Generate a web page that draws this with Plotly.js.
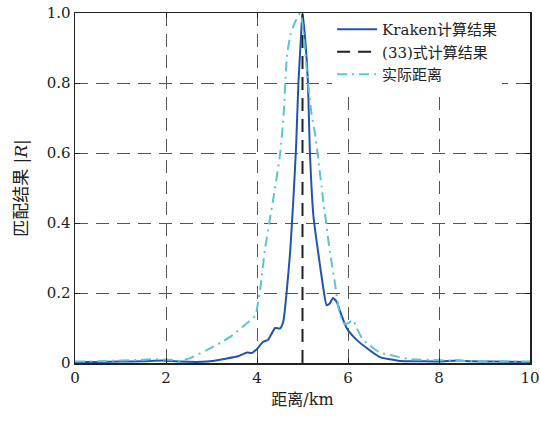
<!DOCTYPE html>
<html><head><meta charset="utf-8">
<script src="https://cdn.plot.ly/plotly-3.0.1.min.js"></script>
<style>html,body{margin:0;padding:0;background:#fff}#c{width:540px;height:425px}</style>
</head><body><div id="c"></div>
<script>
const blueX = [0,0.5,1,1.5,1.93,2.3,2.9,3.34,3.6,3.78,3.89,4.0,4.13,4.24,4.40,4.51,4.58,4.65,4.73,4.80,4.86,4.91,4.97,5.0,5.05,5.12,5.16,5.24,5.34,5.45,5.53,5.60,5.67,5.75,5.82,5.97,6.19,6.42,6.70,7.14,7.6,8.0,8.4,8.7,9.2,10];
const blueY = [0.003,0.003,0.004,0.005,0.007,0.004,0.004,0.013,0.02,0.03,0.029,0.04,0.06,0.066,0.10,0.099,0.12,0.2,0.32,0.47,0.62,0.80,0.94,1.0,0.94,0.80,0.61,0.42,0.32,0.22,0.165,0.17,0.186,0.175,0.15,0.10,0.066,0.042,0.017,0.006,0.005,0.004,0.007,0.005,0.004,0.003];
const cyanX = [0,0.5,1,1.5,1.71,2.1,2.31,2.53,2.9,3.2,3.47,3.78,3.96,4.02,4.08,4.17,4.28,4.36,4.51,4.58,4.66,4.74,4.84,4.95,5.0,5.1,5.2,5.27,5.34,5.45,5.60,5.71,5.82,5.93,6.02,6.11,6.19,6.33,6.48,6.70,6.92,7.36,7.8,8.5,9.2,10];
const cyanY = [0.004,0.005,0.007,0.009,0.011,0.009,0.006,0.014,0.037,0.058,0.08,0.114,0.135,0.17,0.22,0.32,0.41,0.47,0.6,0.7,0.88,0.94,0.975,1.0,0.97,0.83,0.71,0.66,0.59,0.47,0.32,0.23,0.14,0.11,0.115,0.123,0.1,0.066,0.05,0.03,0.023,0.011,0.009,0.006,0.005,0.004];
const formulaX = [5,5];
const formulaY = [0,1];
const names = ['Kraken计算结果','(33)式计算结果','实际距离'];
const xTicks = [0,2,4,6,8,10];
const yTicks = [0,0.2,0.4,0.6,0.8,1.0];
const yTickText = ['0','0.2','0.4','0.6','0.8','1.0'];

const serif = "'DejaVu Serif', 'Noto Sans CJK SC', serif";
const traces = [
  {x: blueX, y: blueY, mode:'lines', name: names[0], line:{color:'#2154ae', width:2, shape:'spline', smoothing:0.5}},
  {x: formulaX, y: formulaY, mode:'lines', name: names[1], line:{color:'#222', width:2, dash:'13px,8px'}},
  {x: cyanX, y: cyanY, mode:'lines', name: names[2], line:{color:'#5cc5d5', width:2, dash:'10px,5px,2px,5px', shape:'spline', smoothing:0.5}}
];
const axBase = {showline:true, linecolor:'#222', linewidth:1.5, mirror:'ticks', ticks:'inside', ticklen:5, tickcolor:'#222',
  showgrid:true, gridcolor:'#555', griddash:'13px,8px', gridwidth:1, zeroline:false,
  tickfont:{family:serif, size:15, color:'#222'}};
const layout = {
  width:540, height:425, margin:{l:75, r:10, t:13, b:62},
  paper_bgcolor:'#fff', plot_bgcolor:'#fff', showlegend:true,
  xaxis: Object.assign({}, axBase, {range:[0,10], tickvals:xTicks,
    title:{text:'距离/km', font:{family:serif, size:16, color:'#222'}, standoff:8}}),
  yaxis: Object.assign({}, axBase, {range:[0,1], tickvals:yTicks, ticktext:yTickText,
    title:{text:'匹配结果 |<i>R</i>|', font:{family:serif, size:17, color:'#222'}, standoff:14}}),
  legend:{x:0.565, y:1, xanchor:'left', yanchor:'top', bgcolor:'#fff', borderwidth:0,
    font:{family:serif, size:15, color:'#222'}, tracegroupgap:0, itemwidth:40}
};
Plotly.newPlot('c', traces, layout, {displayModeBar:false, staticPlot:true});
</script></body></html>
